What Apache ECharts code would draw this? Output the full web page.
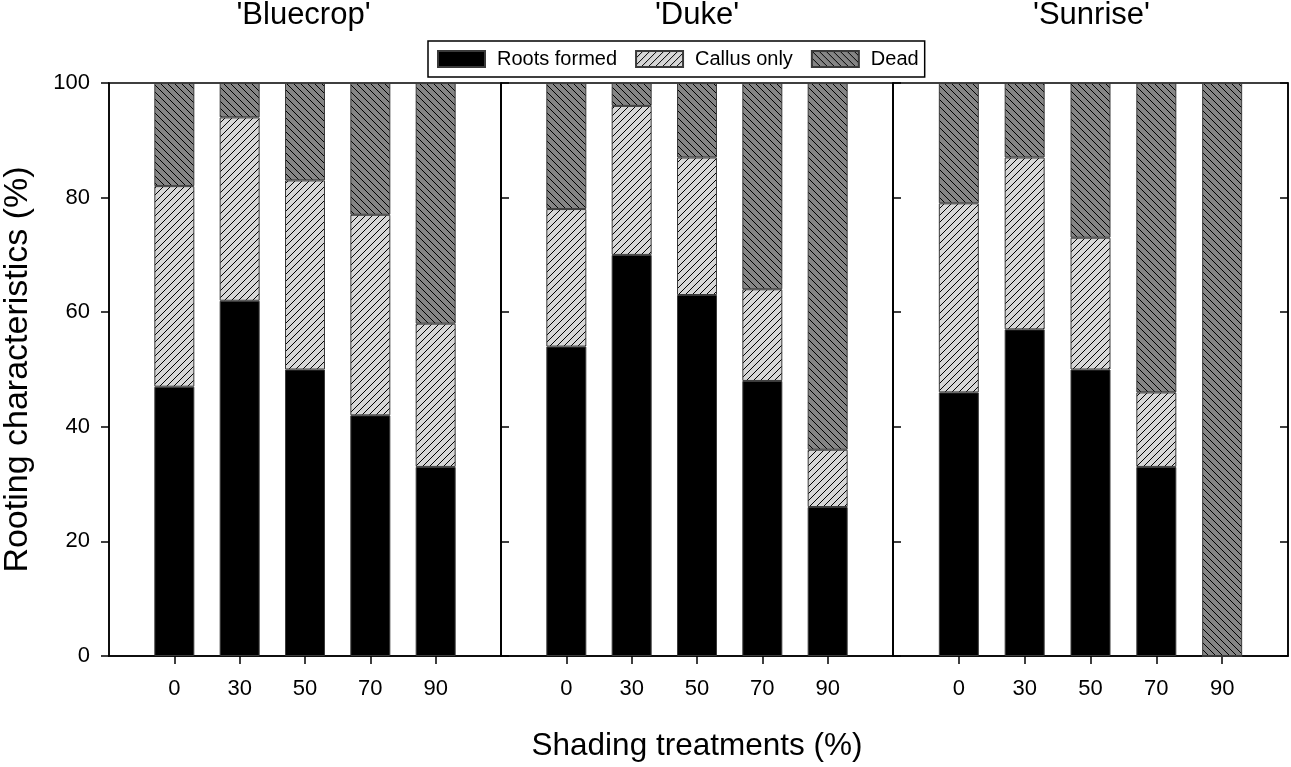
<!DOCTYPE html>
<html>
<head>
<meta charset="utf-8">
<script src="https://cdn.jsdelivr.net/npm/echarts@6/dist/echarts.min.js"></script>
<style>
html,body{margin:0;padding:0;background:#fff;}
#chart{width:1291px;height:767px;}
</style>
</head>
<body>
<div id="chart"></div>
<script>
// ---- data ----
const cultivars = ["'Bluecrop'", "'Duke'", "'Sunrise'"];
const shading = ['0', '30', '50', '70', '90'];
const seriesNames = ['Roots formed', 'Callus only', 'Dead'];
const rootsBluecrop = [47, 62, 50, 42, 33];
const callusBluecrop = [35, 32, 33, 35, 25];
const deadBluecrop = [18, 6, 17, 23, 42];
const rootsDuke = [54, 70, 63, 48, 26];
const callusDuke = [24, 26, 24, 16, 10];
const deadDuke = [22, 4, 13, 36, 64];
const rootsSunrise = [46, 57, 50, 33, 0];
const callusSunrise = [33, 30, 23, 13, 0];
const deadSunrise = [21, 13, 27, 54, 100];
const yTicks = [0, 20, 40, 60, 80, 100];

const panelData = [
  [rootsBluecrop, callusBluecrop, deadBluecrop],
  [rootsDuke, callusDuke, deadDuke],
  [rootsSunrise, callusSunrise, deadSunrise]
];

// ---- patterns ----
function hatch(bg, dir) {
  const s = 7;
  const c = document.createElement('canvas');
  c.width = s; c.height = s;
  const g = c.getContext('2d');
  g.fillStyle = bg; g.fillRect(0, 0, s, s);
  g.strokeStyle = '#000'; g.lineWidth = 1;
  g.beginPath();
  if (dir === '/') {
    g.moveTo(-1, s + 1); g.lineTo(s + 1, -1);
    g.moveTo(-1, 1); g.lineTo(1, -1);
    g.moveTo(s - 1, s + 1); g.lineTo(s + 1, s - 1);
  } else {
    g.moveTo(-1, -1); g.lineTo(s + 1, s + 1);
    g.moveTo(-1, s - 1); g.lineTo(1, s + 1);
    g.moveTo(s - 1, -1); g.lineTo(s + 1, 1);
  }
  g.stroke();
  return { image: c, repeat: 'repeat' };
}
const fills = ['#000000', hatch('#d6d6d6', '/'), hatch('#858585', '\\')];

const FONT = 'Liberation Sans, Arial, Helvetica, sans-serif';
const gridLeft = [106, 501, 893];
const gridWidth = [395, 392, 397];
const gridTop = 83, gridHeight = 573;
// padded category list: empty slot on each side of the five treatments
const xCats = [''].concat(shading, ['']);
const pad = arr => ['-'].concat(arr, ['-']);

const grids = [], xAxes = [], yAxes = [], series = [], titles = [];
for (let i = 0; i < 3; i++) {
  grids.push({ left: gridLeft[i], width: gridWidth[i], top: gridTop, height: gridHeight,
    show: true, borderColor: '#000', borderWidth: 1.5, backgroundColor: 'transparent' });
  xAxes.push({
    type: 'category', gridIndex: i, data: xCats, boundaryGap: false,
    axisLine: { show: true, lineStyle: { color: '#000', width: 1.5 } },
    axisTick: { show: true, length: 8, interval: (idx) => idx > 0 && idx < xCats.length - 1,
      lineStyle: { color: '#000', width: 1.5 } },
    axisLabel: { show: true, interval: 0, margin: 22, fontSize: 22, color: '#000', fontFamily: FONT },
    splitLine: { show: false },
    name: i === 1 ? 'Shading treatments (%)' : '',
    nameLocation: 'middle', nameGap: 74,
    nameTextStyle: { fontSize: 31.5, color: '#000', fontFamily: FONT }
  });
  yAxes.push({
    type: 'value', gridIndex: i, min: yTicks[0], max: yTicks[yTicks.length - 1], interval: 20,
    position: 'left',
    axisLine: { show: true, lineStyle: { color: '#000', width: 1.5 } },
    axisTick: { show: true, inside: i > 0, length: 8, lineStyle: { color: '#000', width: 1.5 } },
    axisLabel: { show: i === 0, margin: 19, fontSize: 22, color: '#000', fontFamily: FONT },
    splitLine: { show: false },
    name: i === 0 ? 'Rooting characteristics (%)' : '',
    nameLocation: 'middle', nameGap: 74,
    nameTextStyle: { fontSize: 34, color: '#000', fontFamily: FONT }
  });
  titles.push({ text: cultivars[i], left: gridLeft[i] + gridWidth[i] / 2, top: 0, padding: 0,
    textAlign: 'center', textStyle: { fontSize: 31, fontWeight: 'normal', color: '#000', fontFamily: FONT } });
  for (let k = 0; k < 3; k++) {
    series.push({
      type: 'bar', name: seriesNames[k], xAxisIndex: i, yAxisIndex: i, stack: 'p' + i,
      barWidth: 40,
      itemStyle: { color: fills[k], borderColor: '#3a3a3a', borderWidth: 1 },
      emphasis: { disabled: true },
      data: pad(panelData[i][k])
    });
  }
}
// right-hand frame axis of the last panel
yAxes.push({
  type: 'value', gridIndex: 2, min: 0, max: 100, interval: 20, position: 'right',
  axisLine: { show: true, lineStyle: { color: '#000', width: 1.5 } },
  axisTick: { show: true, inside: true, length: 8, lineStyle: { color: '#000', width: 1.5 } },
  axisLabel: { show: false }, splitLine: { show: false }
});

const chart = echarts.init(document.getElementById('chart'), null, { renderer: 'canvas' });
chart.setOption({
  animation: false,
  backgroundColor: '#fff',
  title: titles,
  legend: {
    data: seriesNames, left: 428, top: 41, orient: 'horizontal',
    itemWidth: 47, itemHeight: 16, itemGap: 18, icon: 'rect',
    padding: [8, 6, 8, 9], borderColor: '#000', borderWidth: 1.5,
    selectedMode: false,
    textStyle: { fontSize: 20, color: '#000', fontFamily: FONT, padding: [0, 0, 0, 7] }
  },
  grid: grids,
  xAxis: xAxes,
  yAxis: yAxes,
  series: series
});
</script>
</body>
</html>
